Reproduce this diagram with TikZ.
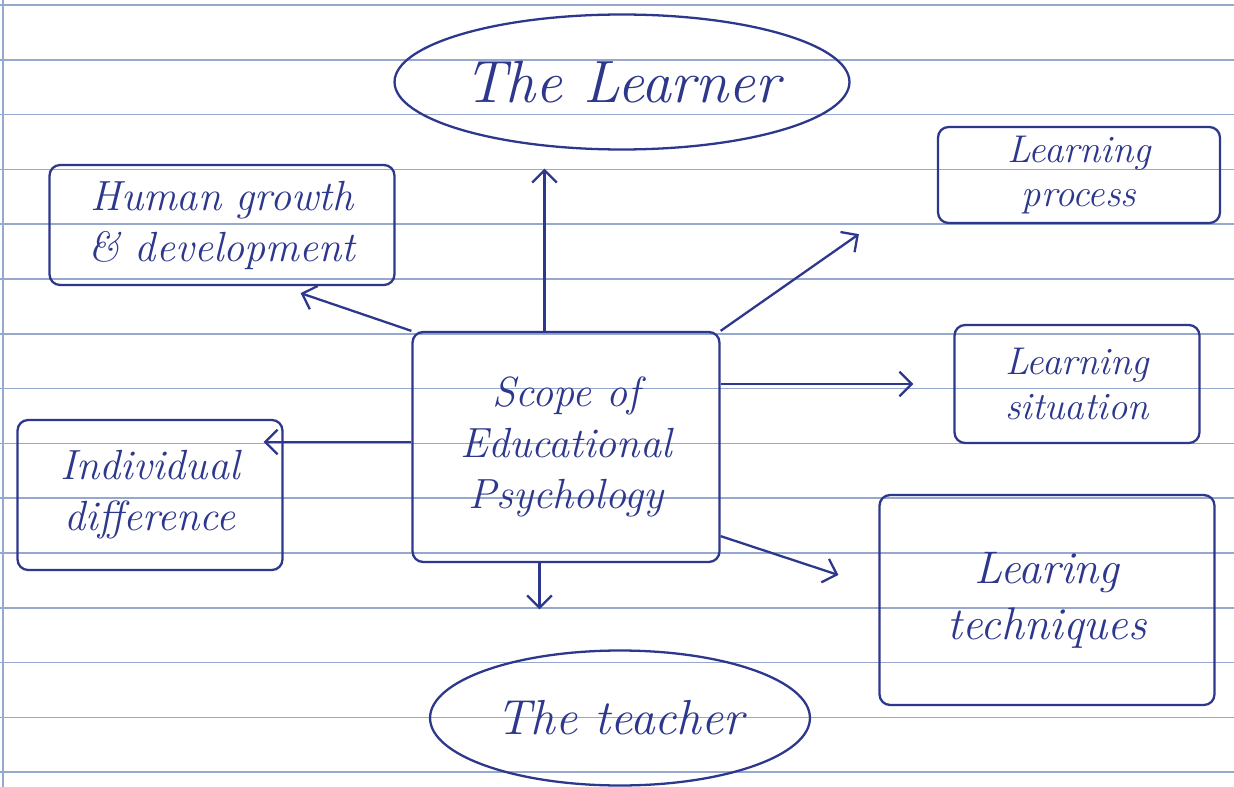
\documentclass[tikz,border=0pt]{standalone}
\usetikzlibrary{shapes.geometric, arrows.meta}

\definecolor{ink}{RGB}{45,55,140}
\definecolor{paperline}{RGB}{150,168,205}

\tikzstyle{topic} = [rectangle, rounded corners=6pt, align=center, inner sep=0pt, draw=ink, text=ink, line width=1.3pt, font=\itshape\fontsize{24}{29}\selectfont]
\tikzstyle{person} = [ellipse, inner sep=0pt, draw=ink, text=ink, line width=1.3pt, font=\itshape\fontsize{28}{32}\selectfont]
\tikzstyle{arrow} = [draw=ink, line width=1.3pt, ->, >={Straight Barb[length=7pt, width=14pt]}]
\tikzstyle{rule line} = [draw=paperline, line width=1pt]

\begin{document}
\begin{tikzpicture}[x=0.02cm, y=-0.02cm]

    \fill [white] (0,0) rectangle (1234,787);
    \useasboundingbox (0,0) rectangle (1234,787);
    % ruled paper
    \foreach \k in {0,...,14}
        \draw [rule line] (0,{5+54.8*\k}) -- (1234,{5+54.8*\k});
    \draw [rule line] (3,0) -- (3,787);

    \node (scope) [topic, minimum width=6.14cm, minimum height=4.6cm] at (566,447) {Scope of\\Educational\\Psychology};
    \node (learner) [person, minimum width=9.1cm, minimum height=2.7cm, font=\itshape\fontsize{34}{38}\selectfont] at (622,82) {The Learner};
    \node (teacher) [person, minimum width=7.6cm, minimum height=2.7cm] at (620,718) {The teacher};
    \node (human) [topic, minimum width=6.9cm, minimum height=2.4cm] at (222,225) {Human growth\\\& development};
    \node (individual) [topic, minimum width=5.3cm, minimum height=3cm] at (150,495) {Individual\\difference};
    \node (process) [topic, minimum width=5.64cm, minimum height=1.92cm, font=\itshape\fontsize{22}{25}\selectfont] at (1079,175) {Learning\\process};
    \node (situation) [topic, minimum width=4.9cm, minimum height=2.36cm, font=\itshape\fontsize{22}{26}\selectfont] at (1077,384) {Learning\\situation};
    \node (techniques) [topic, minimum width=6.7cm, minimum height=4.2cm, font=\itshape\fontsize{26}{32}\selectfont] at (1047,600) {Learing\\techniques};

    \draw [arrow, shorten >=0.36cm] ([xshift=-0.43cm]scope.north) -- ([xshift=-0.43cm]scope.north |- learner.south);
    \draw [arrow] (scope.north west) -- ([xshift=-1.9cm,yshift=-0.14cm]human.south east);
    \draw [arrow] (scope.north east) -- ([xshift=-1.56cm,yshift=-0.2cm]process.south west);
    \draw [arrow] (scope.east |- situation.west) -- ([xshift=-0.8cm]situation.west);
    \draw [arrow] ([yshift=0.54cm]scope.south east) -- ([xshift=-0.8cm,yshift=0.5cm]techniques.west);
    \draw [arrow] ([yshift=0.1cm]scope.west) -- ([xshift=-0.4cm,yshift=0.1cm]individual.east |- scope.west);
    \draw [arrow, shorten >=0.8cm] ([xshift=-0.53cm]scope.south) -- ([xshift=-0.53cm]scope.south |- teacher.north);

\end{tikzpicture}
\end{document}
